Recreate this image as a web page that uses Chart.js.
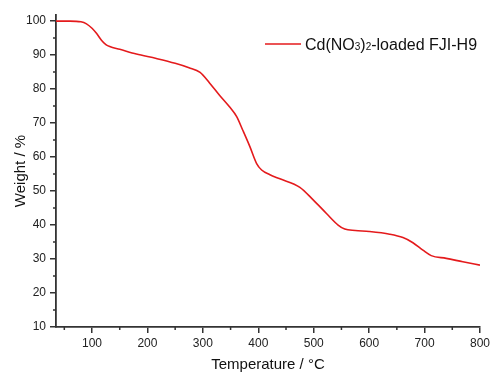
<!DOCTYPE html>
<html>
<head>
<meta charset="utf-8">
<script src="https://cdn.jsdelivr.net/npm/chart.js@4/dist/chart.umd.min.js"></script>
<style>
  html, body { margin: 0; padding: 0; background: #fff; }
  #wrap { width: 493px; height: 374px; }
</style>
</head>
<body>
<div id="wrap"><canvas id="tga"></canvas></div>
<script>
// TGA curve
const TEMPERATURE = [35, 60, 80, 90, 100, 108, 117, 125, 132, 150, 180, 216, 250, 275, 295, 312, 330, 348, 361,
    372, 385, 397, 406, 421, 439, 475, 499, 523, 544, 556, 575, 600, 637, 661, 679, 697, 712, 739, 769, 800];
const WEIGHT = [100, 100, 99.8, 99.2, 97.9, 96.4, 94.4, 93.1, 92.5, 91.7, 90.3, 89.0, 87.6, 86.3, 84.9, 81.8, 78.2, 74.8, 71.9,
    67.9, 63.0, 58.1, 56.2, 54.8, 53.6, 51.1, 47.4, 43.4, 40.0, 38.8, 38.4, 38.1, 37.3, 36.3, 34.8, 32.6, 31.0, 30.2, 29.2, 28.2];

const X_TICKS = [100, 200, 300, 400, 500, 600, 700, 800];
const Y_TICKS = [10, 20, 30, 40, 50, 60, 70, 80, 90, 100];
const X_MINOR = [50, 150, 250, 350, 450, 550, 650, 750];
const Y_MINOR = [15, 25, 35, 45, 55, 65, 75, 85, 95];

const AXIS_COLOR = '#333';
const LINE_COLOR = 'rgb(228,26,28)';
const FONT = 'Arial, "Liberation Sans", sans-serif';

const minorTicks = {
    id: 'minorTicks',
    afterDraw(chart) {
        const ctx = chart.ctx;
        const x = chart.scales.x, y = chart.scales.y;
        ctx.save();
        ctx.strokeStyle = AXIS_COLOR;
        ctx.lineWidth = 1.5;
        ctx.beginPath();
        X_MINOR.forEach(v => {
            const px = x.getPixelForValue(v);
            ctx.moveTo(px, y.bottom);
            ctx.lineTo(px, y.bottom + 3);
        });
        Y_MINOR.forEach(v => {
            const py = y.getPixelForValue(v);
            ctx.moveTo(x.left, py);
            ctx.lineTo(x.left - 3, py);
        });
        ctx.stroke();
        ctx.restore();
    }
};

const legendBox = {
    id: 'legendBox',
    afterDraw(chart) {
        const ctx = chart.ctx;
        ctx.save();
        ctx.strokeStyle = LINE_COLOR;
        ctx.lineWidth = 1.5;
        ctx.beginPath();
        ctx.moveTo(265, 44);
        ctx.lineTo(301, 44);
        ctx.stroke();
        ctx.fillStyle = '#111';
        ctx.textBaseline = 'alphabetic';
        const parts = [['Cd(NO', 16], ['3', 10], [')', 16], ['2', 10], ['-loaded FJI-H9', 16]];
        let px = 305;
        parts.forEach(([t, size]) => {
            ctx.font = size + 'px ' + FONT;
            ctx.fillText(t, px, 49.5);
            px += ctx.measureText(t).width;
        });
        ctx.restore();
    }
};

new Chart(document.getElementById('tga'), {
    type: 'line',
    data: {
        labels: TEMPERATURE,
        datasets: [{
            label: 'Cd(NO3)2-loaded FJI-H9',
            data: TEMPERATURE.map((t, i) => ({x: t, y: WEIGHT[i]})),
            borderColor: LINE_COLOR,
            borderWidth: 1.6,
            pointRadius: 0,
            fill: false,
            cubicInterpolationMode: 'monotone'
        }]
    },
    options: {
        responsive: true,
        maintainAspectRatio: false,
        animation: false,
        layout: {padding: {top: 15, right: 12, left: 0, bottom: 0}},
        plugins: {
            legend: {display: false},
            tooltip: {enabled: false}
        },
        scales: {
            x: {
                type: 'linear',
                min: 35,
                max: 800,
                afterBuildTicks: s => { s.ticks = X_TICKS.map(v => ({value: v})); },
                afterFit: s => { s.height = 47; },
                grid: {drawOnChartArea: false, color: AXIS_COLOR, lineWidth: 1.5, tickLength: 6},
                border: {color: AXIS_COLOR, width: 1.8},
                ticks: {color: '#222', font: {family: FONT, size: 12}, padding: 3, maxRotation: 0},
                title: {
                    display: true,
                    text: 'Temperature / °C',
                    color: '#111',
                    font: {family: FONT, size: 15},
                    padding: {top: 0, bottom: 0}
                }
            },
            y: {
                min: 10,
                max: 101.8,
                afterBuildTicks: s => { s.ticks = Y_TICKS.map(v => ({value: v})); },
                afterFit: s => { s.width = 56; },
                grid: {drawOnChartArea: false, color: AXIS_COLOR, lineWidth: 1.5, tickLength: 6},
                border: {color: AXIS_COLOR, width: 1.8},
                ticks: {color: '#222', font: {family: FONT, size: 12}, padding: 4},
                title: {
                    display: true,
                    text: 'Weight / %',
                    color: '#111',
                    font: {family: FONT, size: 15},
                    padding: {top: 12, bottom: 0}
                }
            }
        }
    },
    plugins: [minorTicks, legendBox]
});
</script>
</body>
</html>
